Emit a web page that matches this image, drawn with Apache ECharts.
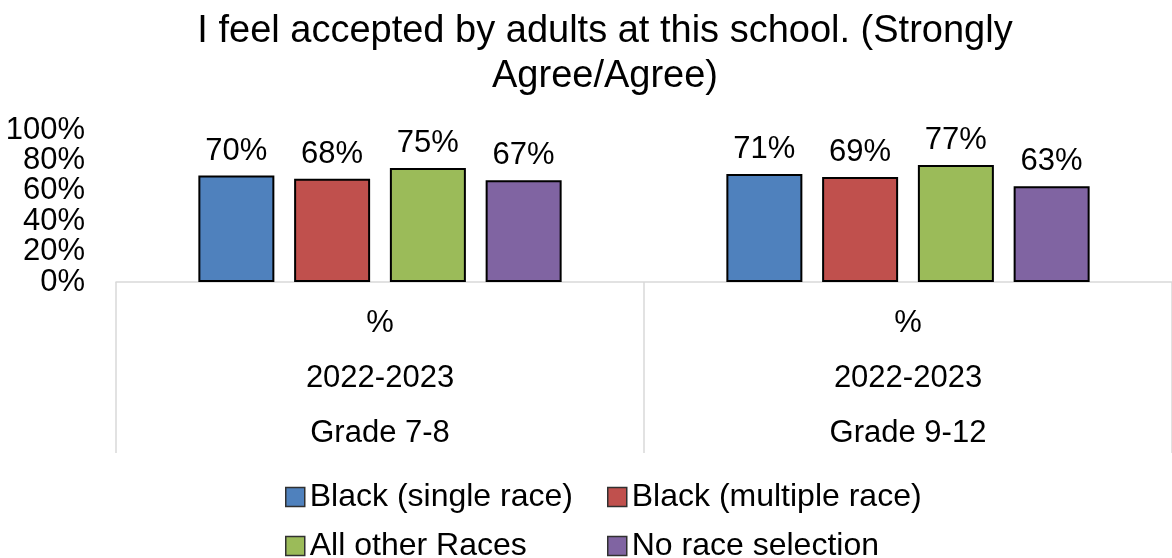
<!DOCTYPE html>
<html>
<head>
<meta charset="utf-8">
<script src="https://cdn.jsdelivr.net/npm/echarts@6/dist/echarts.min.js"></script>
<style>
  html, body { margin: 0; padding: 0; background: #fff; }
  #chart { width: 1172px; height: 558px; }
</style>
</head>
<body>
<div id="chart"></div>
<script>
var grades = ['Grade 7-8', 'Grade 9-12'],
    years = ['2022-2023', '2022-2023'],
    measures = ['%', '%']

var seriesNames = ['Black (single race)', 'Black (multiple race)', 'All other Races', 'No race selection'],
    colors = ['#4F81BD', '#C0504D', '#9BBB59', '#8064A2']

var blackSingle = [70, 71],
    blackMultiple = [68, 69],
    allOther = [75, 77],
    noRace = [67, 63]

var yTicks = [0, 20, 40, 60, 80, 100]

var font = 'Liberation Sans, Arial, sans-serif'
var chart = echarts.init(document.getElementById('chart'))

function makeSeries(name, data, color) {
    return {
        name: name,
        type: 'bar',
        data: data,
        barWidth: 76,
        barGap: '26%',
        itemStyle: { color: color, borderColor: '#000', borderWidth: 2 },
        label: {
            show: true,
            position: 'top',
            distance: 9,
            formatter: '{c}%',
            color: '#000',
            fontSize: 31,
            fontFamily: font
        }
    }
}

// one legend per item so the two columns line up like the original
function makeLegend(name, left, top) {
    return {
        data: [name],
        left: left,
        top: top,
        padding: 0,
        itemWidth: 19,
        itemHeight: 19,
        icon: 'rect',
        textStyle: { fontSize: 32, color: '#000', fontFamily: font },
        itemStyle: { borderColor: '#303030', borderWidth: 1.5 }
    }
}

// the tick labels sit closer than their own height, so ECharts drops every
// other one; split them over two stacked axes (odd / even ticks)
function makeYAxis(parity) {
    return {
        type: 'value',
        position: 'left',
        min: yTicks[0],
        max: yTicks[yTicks.length - 1],
        interval: 20,
        splitLine: { show: false },
        axisLine: { show: false },
        axisTick: { show: false },
        axisLabel: {
            margin: 31,
            color: '#000',
            fontSize: 31,
            fontFamily: font,
            showMinLabel: true,
            showMaxLabel: true,
            formatter: function (v) {
                return (yTicks.indexOf(v) % 2 === parity) ? v + '%' : ''
            }
        }
    }
}

var option = {
    animation: false,
    title: {
        text: 'I feel accepted by adults at this school. (Strongly\nAgree/Agree)',
        left: 600,
        top: 4,
        textAlign: 'center',
        textStyle: { fontSize: 38, fontWeight: 'normal', color: '#000', fontFamily: font, lineHeight: 45 }
    },
    legend: [
        makeLegend(seriesNames[0], 285, 481),
        makeLegend(seriesNames[1], 607, 481),
        makeLegend(seriesNames[2], 285, 530),
        makeLegend(seriesNames[3], 607, 530)
    ],
    grid: {
        left: 116,
        top: 130,
        width: 1060,
        height: 152
    },
    xAxis: {
        type: 'category',
        data: grades,
        axisLine: { lineStyle: { color: '#D9D9D9', width: 1.5 } },
        axisTick: { show: true, length: 171, interval: 0, lineStyle: { color: '#D9D9D9', width: 1.5 } },
        axisLabel: {
            interval: 0,
            margin: 14,
            color: '#000',
            fontSize: 31,
            fontFamily: font,
            lineHeight: 55,
            formatter: function (value, idx) {
                return measures[idx] + '\n' + years[idx] + '\n' + value
            }
        }
    },
    yAxis: [makeYAxis(0), makeYAxis(1)],
    series: [
        makeSeries(seriesNames[0], blackSingle, colors[0]),
        makeSeries(seriesNames[1], blackMultiple, colors[1]),
        makeSeries(seriesNames[2], allOther, colors[2]),
        makeSeries(seriesNames[3], noRace, colors[3])
    ]
}
chart.setOption(option)
</script>
</body>
</html>
